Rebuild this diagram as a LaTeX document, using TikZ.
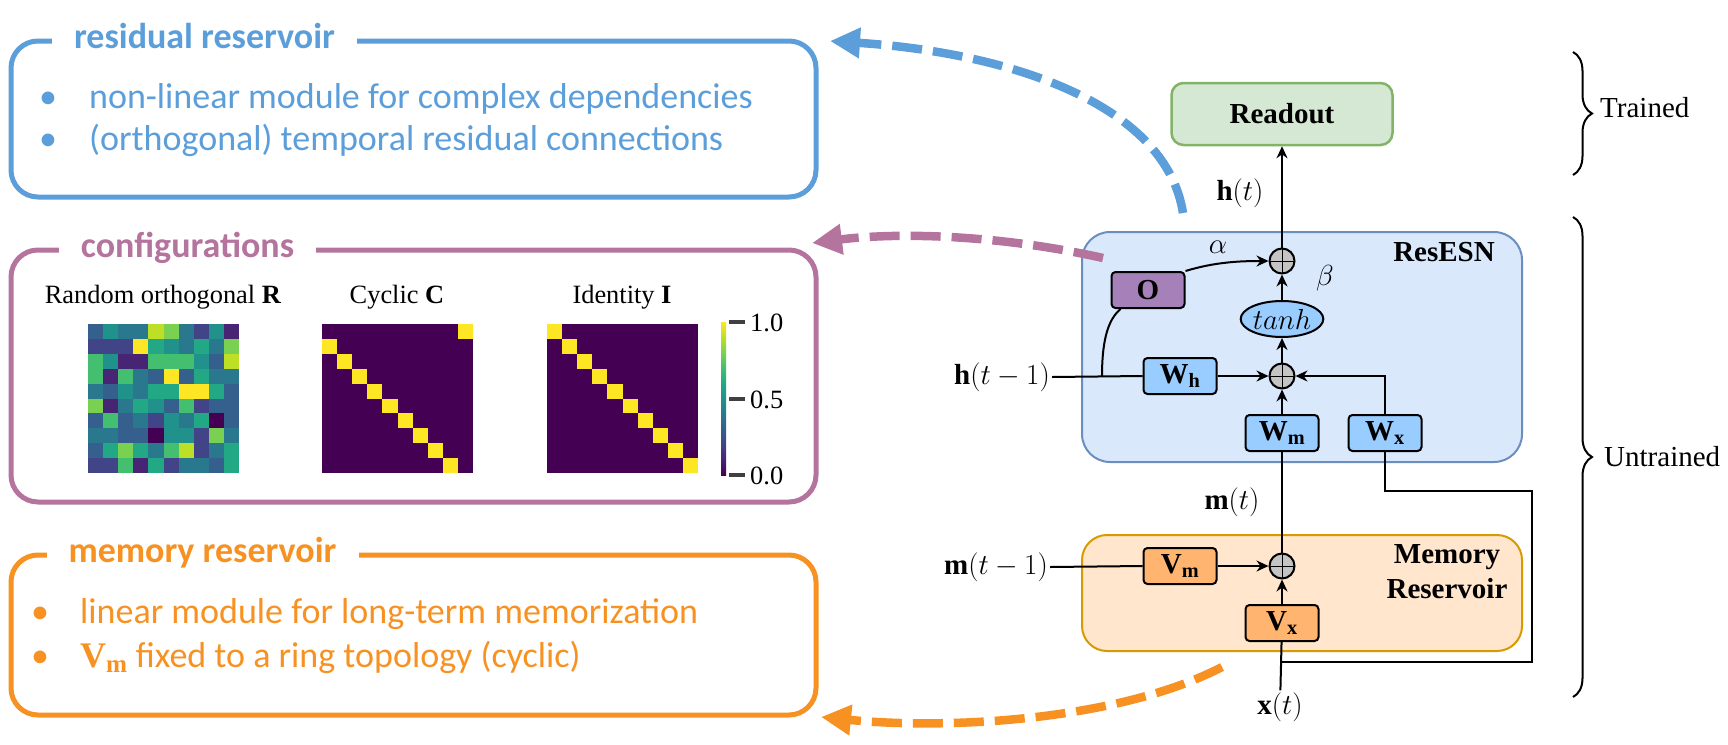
\documentclass[tikz,border=0pt]{standalone}
\usepackage{fix-cm}
\usepackage{fontspec}
\setmainfont{Liberation Serif}
\newfontfamily\calibrifont{Carlito}
\usepackage{amsmath,amssymb}
\usetikzlibrary{arrows.meta,shapes.geometric,decorations.pathreplacing}

\definecolor{resblue}{RGB}{91,158,218}
\definecolor{cfgpurple}{RGB}{180,116,158}
\definecolor{memorange}{RGB}{247,146,34}
\definecolor{esnfill}{RGB}{218,232,252}
\definecolor{esnline}{RGB}{108,142,191}
\definecolor{readfill}{RGB}{213,232,212}
\definecolor{readline}{RGB}{130,179,102}
\definecolor{memfill}{RGB}{255,230,204}
\definecolor{memline}{RGB}{215,155,0}
\definecolor{wfill}{RGB}{153,204,255}
\definecolor{vfill}{RGB}{255,181,112}
\definecolor{ofill}{RGB}{166,128,184}
\definecolor{sumfill}{RGB}{196,196,196}
\definecolor{vir0}{HTML}{440154}
\definecolor{vir1}{HTML}{482475}
\definecolor{vir2}{HTML}{414487}
\definecolor{vir3}{HTML}{355F8D}
\definecolor{vir4}{HTML}{2A788E}
\definecolor{vir5}{HTML}{21918C}
\definecolor{vir6}{HTML}{22A884}
\definecolor{vir7}{HTML}{44BF70}
\definecolor{vir8}{HTML}{7AD151}
\definecolor{vir9}{HTML}{BDDF26}
\definecolor{vir10}{HTML}{FDE725}
\pgfdeclareverticalshading{viridisbar}{100bp}{color(0bp)=(vir0); color(25bp)=(vir0);
  color(30bp)=(vir1); color(35bp)=(vir2); color(40bp)=(vir3); color(45bp)=(vir4);
  color(50bp)=(vir5); color(55bp)=(vir6); color(60bp)=(vir7); color(65bp)=(vir8);
  color(70bp)=(vir9); color(75bp)=(vir10); color(100bp)=(vir10)}

\newcommand\diagsize{\fontsize{29}{35}\selectfont}
\newcommand\boxsize{\calibrifont\fontsize{36}{43}\selectfont}
\newcommand\mapsize{\fontsize{26.4}{30}\selectfont}

\tikzset{
  infobox/.style={rectangle, rounded corners=27, line width=5, minimum width=805},
  boxtitle/.style={anchor=base, fill=white, inner xsep=22, inner ysep=3, font=\boxsize\bfseries},
  bulletline/.style={anchor=base west, inner sep=0, font=\boxsize},
  maptitle/.style={anchor=base, inner sep=0, font=\mapsize},
  ticklabel/.style={anchor=west, inner sep=0, font=\mapsize},
  wbox/.style={draw, fill=wfill, rounded corners=4, line width=2, minimum width=73, minimum height=36, inner sep=0},
  vbox/.style={wbox, fill=vfill},
  opbox/.style={wbox, fill=ofill},
  sumnode/.style={circle, draw, fill=sumfill, line width=2, minimum size=25, inner sep=0,
    path picture={\draw[line width=0.9] (path picture bounding box.north) -- (path picture bounding box.south)
      (path picture bounding box.west) -- (path picture bounding box.east);}},
  tanhnode/.style={ellipse, draw, fill=wfill, line width=2, minimum width=73, minimum height=36, inner sep=0},
  lbl/.style={inner sep=2},
  flow/.style={line width=2, -{Stealth[length=12, width=11]}},
  link/.style={line width=2},
  bigdash/.style={line width=8.5, dash pattern=on 30pt off 11pt, -{Triangle[length=30, width=29]}},
  brace/.style={decorate, decoration={brace, amplitude=19}, line width=2}
}

\begin{document}
\begin{tikzpicture}[x=1pt, y=-1pt, font=\diagsize]
	\useasboundingbox (0,0) rectangle (1728,744);

	% Summary boxes on the left
	\node (resbox) [infobox, draw=resblue, minimum height=156] at (413.5,119) {};
	\node [boxtitle, text=resblue] at (204.5,48) {residual reservoir};
	\node [bulletline, text=resblue] at (39,108) {\makebox[50pt][l]{•}non-linear module for complex dependencies};
	\node [bulletline, text=resblue] at (39,150) {\makebox[50pt][l]{•}(orthogonal) temporal residual connections};

	\node (cfgbox) [infobox, draw=cfgpurple, minimum height=252] at (413.5,376) {};
	\node [boxtitle, text=cfgpurple] at (187.5,257) {configurations};

	\node (membox) [infobox, draw=memorange, minimum height=160] at (413.5,635) {};
	\node [boxtitle, text=memorange] at (202.5,562) {memory reservoir};
	\node [bulletline, text=memorange] at (31,623) {\makebox[49pt][l]{•}linear module for long-term memorization};
	\node [bulletline, text=memorange] at (31,667) {\makebox[49pt][l]{•}$\mathbf{V}_\mathbf{m}$ fixed to a ring topology (cyclic)};

	% Heatmaps of the three configurations
	\node [maptitle] at (163,303) {Random orthogonal \textbf{R}};
	\node [maptitle] at (397,303) {Cyclic \textbf{C}};
	\node [maptitle] at (622,303) {Identity \textbf{I}};

	\foreach \row [count=\i] in {{3,5,4,4,9,8,4,2,5,1},{2,2,2,10,6,5,4,6,4,8},{7,5,1,1,7,7,7,5,3,9},
		{7,1,7,4,3,10,3,6,4,4},{4,3,5,4,6,6,10,10,6,3},{8,1,4,6,5,3,7,2,3,3},{3,7,3,4,2,5,4,6,0,3},
		{4,4,3,3,0,5,5,2,8,4},{3,6,8,6,4,7,9,2,4,6},{2,2,7,1,6,2,4,4,3,6}}
		\foreach \v [count=\j] in \row
			\fill[fill=vir\v] ({88+(\j-1)*15.1},{324+(\i-1)*14.9}) rectangle +(15.3,15.1);

	\fill[vir0] (322,324) rectangle (473,473);
	\fill[vir0] (547,324) rectangle (698,473);
	\foreach \i in {1,...,10} {
		\pgfmathtruncatemacro\col{mod(\i+8,10)}
		\fill[vir10] ({322+\col*15.1},{324+(\i-1)*14.9}) rectangle +(15.1,14.9);
		\fill[vir10] ({547+(\i-1)*15.1},{324+(\i-1)*14.9}) rectangle +(15.1,14.9);
	}

	% Colour bar
	\shade[shading=viridisbar] (721,322) rectangle (726,475);
	\draw[line width=3.5, black!75] (729,322) -- (745,322);
	\draw[line width=3.5, black!75] (729,399) -- (745,399);
	\draw[line width=3.5, black!75] (729,475) -- (745,475);
	\node [ticklabel] at (750,323) {1.0};
	\node [ticklabel] at (750,400) {0.5};
	\node [ticklabel] at (750,476) {0.0};

	% Model blocks
	\node (readout) [draw=readline, fill=readfill, rounded corners=12, line width=2.5, minimum width=221, minimum height=62] at (1282,114) {\textbf{Readout}};
	\node (resesn) [draw=esnline, fill=esnfill, rounded corners=28, line width=2, minimum width=440, minimum height=230] at (1302,347) {};
	\node [anchor=east, lbl] at (1497,252) {\textbf{ResESN}};
	\node (memres) [draw=memline, fill=memfill, rounded corners=25, line width=2, minimum width=440, minimum height=116] at (1302,593) {};
	\node [align=center, lbl] at (1447,572) {\textbf{Memory}\\\textbf{Reservoir}};

	\node (sumout) [sumnode] at (1282,261) {};
	\node (obox) [opbox] at (1148,290) {$\mathbf{O}$};
	\node (tanh) [tanhnode] at (1282,319) {$tanh$};
	\node (sumin) [sumnode] at (1282,376) {};
	\node (wh) [wbox] at (1180,376) {$\mathbf{W}_\mathbf{h}$};
	\node (wm) [wbox] at (1282,433) {$\mathbf{W}_\mathbf{m}$};
	\node (wx) [wbox] at (1385,433) {$\mathbf{W}_\mathbf{x}$};
	\node (summem) [sumnode] at (1282,566) {};
	\node (vm) [vbox] at (1180,566) {$\mathbf{V}_\mathbf{m}$};
	\node (vx) [vbox] at (1282,623) {$\mathbf{V}_\mathbf{x}$};

	% Signals
	\node (hprev) [anchor=east, lbl] at (1052,377) {$\mathbf{h}(t-1)$};
	\node (mprev) [anchor=east, lbl] at (1050,567) {$\mathbf{m}(t-1)$};
	\node (xin) [lbl] at (1280,707) {$\mathbf{x}(t)$};
	\node (hout) [lbl] at (1240,193) {$\mathbf{h}(t)$};
	\node (mout) [lbl] at (1232,502) {$\mathbf{m}(t)$};
	\node (alpha) [lbl] at (1218,247) {$\alpha$};
	\node (beta) [lbl] at (1325,278) {$\beta$};

	\coordinate (hsplit) at (1102,376);
	\coordinate (xsplit) at (1282,662);
	\coordinate (loopcorner) at (1532,491);

	\draw [flow] (sumout) -- (readout);
	\draw [flow] (obox.north east) .. controls (1215,262) and (1240,261) .. (sumout.west);
	\draw [flow] (tanh) -- (sumout);
	\draw [flow] (sumin) -- (tanh);
	\draw [link] (hprev.east) -- (wh.west);
	\draw [link] (hsplit) .. controls (1102,335) and (1110,318) .. ([xshift=10]obox.south west);
	\draw [flow] (wh) -- (sumin);
	\draw [flow] (wm) -- (sumin);
	\draw [flow] (wx.north) |- (sumin.east);
	\draw [link] (summem) -- (wm);
	\draw [link] (mprev.east) -- (vm.west);
	\draw [flow] (vm) -- (summem);
	\draw [flow] (vx) -- (summem);
	\draw [link] (xin) -- (vx);
	\draw [link] (xsplit) -| (loopcorner) -| (wx.south);

	% Dashed arrows towards the summaries
	\coordinate (resstart) at (1183,213);
	\coordinate (restip) at (830,41);
	\coordinate (cfgstart) at (1103,258);
	\coordinate (cfgtip) at (812,243);
	\coordinate (memstart) at (1222,667);
	\coordinate (memtip) at (821,717);
	\draw [bigdash, resblue] (resstart) .. controls (1165,100) and (1000,52) .. (restip);
	\draw [bigdash, cfgpurple] (cfgstart) .. controls (1000,235) and (900,232) .. (cfgtip);
	\draw [bigdash, memorange] (memstart) .. controls (1120,720) and (950,730) .. (memtip);

	% Braces for trained and untrained parts
	\draw [brace] (1573,52) -- (1573,175);
	\node [anchor=west, lbl] at (1598,108) {Trained};
	\draw [brace] (1573,217) -- (1573,697);
	\node [anchor=west, lbl] at (1602,457) {Untrained};
\end{tikzpicture}
\end{document}
